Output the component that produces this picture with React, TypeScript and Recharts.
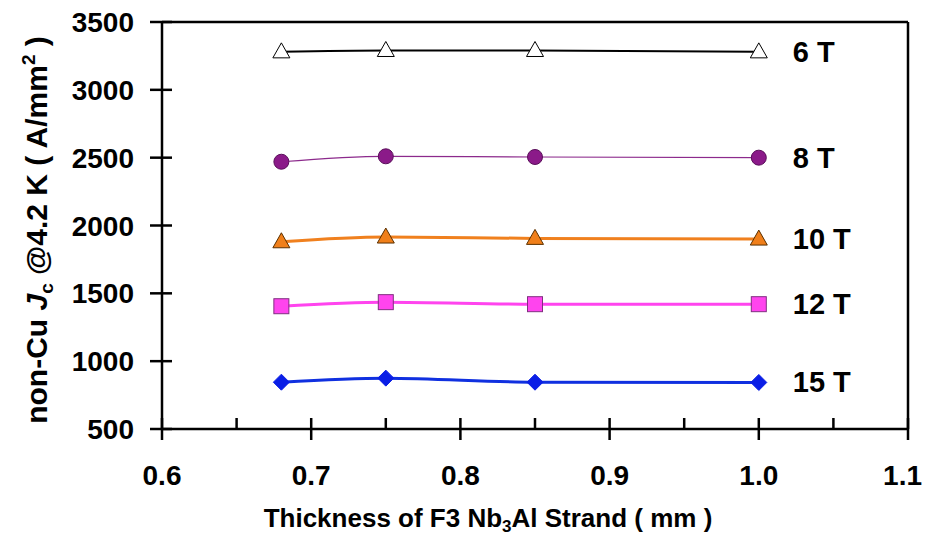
import React from 'react';
import { LineChart, Line, XAxis, YAxis, ReferenceLine, Label } from 'recharts';

const thickness = [0.68, 0.75, 0.85, 1.0];
const jc6T = [3280, 3290, 3290, 3280];
const jc8T = [2470, 2510, 2505, 2500];
const jc10T = [1880, 1915, 1905, 1900];
const jc12T = [1405, 1435, 1420, 1420];
const jc15T = [845, 875, 845, 843];
const fieldLabels = ['6 T', '8 T', '10 T', '12 T', '15 T'];
const xTicks = [0.6, 0.65, 0.7, 0.75, 0.8, 0.85, 0.9, 0.95, 1.0, 1.05, 1.1];
const yTicks = [500, 1000, 1500, 2000, 2500, 3000, 3500];

const data = thickness.map((t, i) => ({
  t,
  b6: jc6T[i],
  b8: jc8T[i],
  b10: jc10T[i],
  b12: jc12T[i],
  b15: jc15T[i],
}));

const FONT = 'Liberation Sans, Arial, sans-serif';
const last = thickness.length - 1;

const XTick = (props: any) => {
  const { x, y, payload } = props;
  const v = payload.value;
  const major = Math.abs(v * 10 - Math.round(v * 10)) < 1e-6;
  // keep the last label inside the page edge
  const edge = x + 20 > 922;
  return (
    <g>
      <line x1={x} x2={x} y1={y - 11} y2={major ? y + 11 : y} stroke="#000" strokeWidth={2.5} />
      {major && (
        <text x={edge ? 922 : x} y={y + 56} textAnchor={edge ? 'end' : 'middle'} fontFamily={FONT} fontWeight="bold" fontSize={28} fill="#000">
          {v.toFixed(1)}
        </text>
      )}
    </g>
  );
};

const YTick = (props: any) => {
  const { x, y, payload } = props;
  return (
    <g>
      <line x1={x - 12} x2={x + 10} y1={y} y2={y} stroke="#000" strokeWidth={2.5} />
      <text x={x - 28} y={y + 10} textAnchor="end" fontFamily={FONT} fontWeight="bold" fontSize={28} fill="#000">
        {payload.value}
      </text>
    </g>
  );
};

const endText = (cx: number, cy: number, text: string) => (
  <text x={cx + 34} y={cy + 10} fontFamily={FONT} fontWeight="bold" fontSize={29} fill="#000">
    {text}
  </text>
);

const makeDot = (shape: string, fill: string, stroke: string, text: string) => (p: any) => {
  const { cx, cy, index } = p;
  let mark;
  if (shape === 'triangle') {
    mark = <polygon points={`${cx},${cy - 9} ${cx - 8.5},${cy + 6} ${cx + 8.5},${cy + 6}`} fill={fill} stroke={stroke} strokeWidth={1} />;
  } else if (shape === 'circle') {
    mark = <circle cx={cx} cy={cy} r={7.5} fill={fill} stroke={stroke} strokeWidth={1} />;
  } else if (shape === 'square') {
    mark = <rect x={cx - 7.5} y={cy - 7.5} width={15} height={15} fill={fill} stroke={stroke} strokeWidth={1} />;
  } else {
    mark = <polygon points={`${cx},${cy - 8} ${cx + 8},${cy} ${cx},${cy + 8} ${cx - 8},${cy}`} fill={fill} stroke={stroke} strokeWidth={1} />;
  }
  return (
    <g key={`dot-${text}-${index}`}>
      {mark}
      {index === last && endText(cx, cy, text)}
    </g>
  );
};

const YTitle = () => (
  <text transform="translate(47,230) rotate(-90)" textAnchor="middle" fontFamily={FONT} fontWeight="bold" fontSize={30} fill="#000">
    non-Cu <tspan fontStyle="italic">J</tspan>
    <tspan fontSize={19} dy={6}>c</tspan>
    <tspan dy={-6}> @4.2 K ( A/mm</tspan>
    <tspan fontSize={19} dy={-12}>2</tspan>
    <tspan dy={12}> )</tspan>
  </text>
);

const XTitle = () => (
  <text x={488} y={527} textAnchor="middle" fontFamily={FONT} fontWeight="bold" fontSize={26} fill="#000">
    Thickness of F3 Nb<tspan fontSize={17} dy={5}>3</tspan>
    <tspan dy={-5}>Al Strand ( mm )</tspan>
  </text>
);

const App: React.FC = () => {
  return (
    <div style={{ position: 'absolute', left: 0, top: 0, width: 925, height: 539, background: '#fff' }}>
      <LineChart width={925} height={539} data={data} margin={{ top: 22, right: 17, left: 0, bottom: 0 }}>
        <XAxis
          dataKey="t"
          type="number"
          domain={[0.6, 1.1]}
          ticks={xTicks}
          interval={0}
          height={110}
          tickSize={0}
          tickMargin={0}
          tickLine={false}
          axisLine={{ stroke: '#000', strokeWidth: 2.5 }}
          tick={<XTick />}
        >
          <Label content={<XTitle />} />
        </XAxis>
        <YAxis
          type="number"
          domain={[500, 3500]}
          ticks={yTicks}
          interval={0}
          width={162}
          tickSize={0}
          tickMargin={0}
          tickLine={false}
          axisLine={{ stroke: '#000', strokeWidth: 2.5 }}
          tick={<YTick />}
        >
          <Label content={<YTitle />} />
        </YAxis>
        <ReferenceLine y={3500} stroke="#000" strokeWidth={2.5} />
        <ReferenceLine x={1.1} stroke="#000" strokeWidth={2.5} />
        <Line type="monotone" dataKey="b6" stroke="#000" strokeWidth={2} isAnimationActive={false}
          dot={makeDot('triangle', '#fff', '#000', fieldLabels[0])} activeDot={false} />
        <Line type="monotone" dataKey="b8" stroke="#8c2a8c" strokeWidth={1.2} isAnimationActive={false}
          dot={makeDot('circle', '#8b1a89', '#5a0f5a', fieldLabels[1])} activeDot={false} />
        <Line type="monotone" dataKey="b10" stroke="#f0801e" strokeWidth={3} isAnimationActive={false}
          dot={makeDot('triangle', '#f07f1a', '#5a3000', fieldLabels[2])} activeDot={false} />
        <Line type="monotone" dataKey="b12" stroke="#ff44ee" strokeWidth={3} isAnimationActive={false}
          dot={makeDot('square', '#ff44ee', '#803080', fieldLabels[3])} activeDot={false} />
        <Line type="monotone" dataKey="b15" stroke="#1030e0" strokeWidth={3} isAnimationActive={false}
          dot={makeDot('diamond', '#0a1ee6', '#0a1ee6', fieldLabels[4])} activeDot={false} />
      </LineChart>
    </div>
  );
};

export default App;
